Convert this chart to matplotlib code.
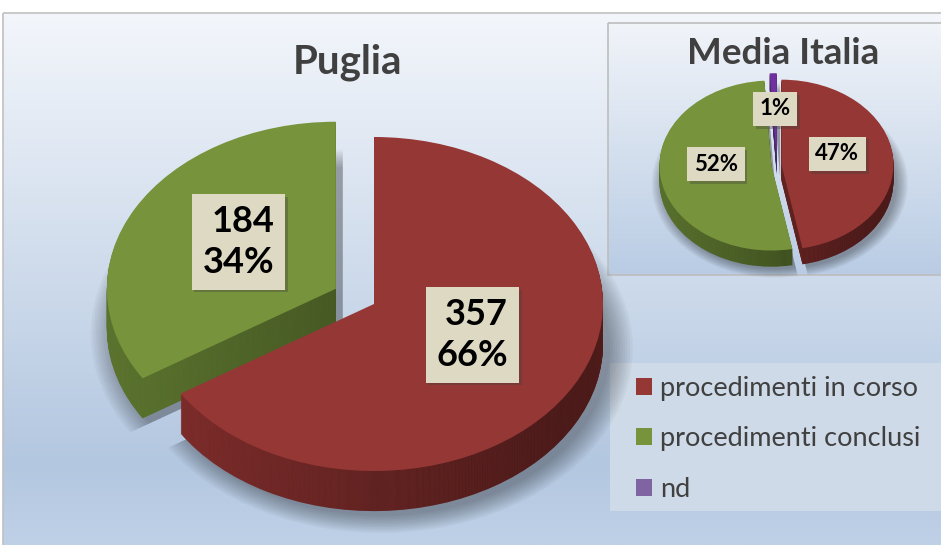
import numpy as np
import matplotlib
matplotlib.use("Agg")
import matplotlib.pyplot as plt
from matplotlib.colors import LinearSegmentedColormap
from matplotlib.patches import Rectangle, Patch
import matplotlib.patheffects as pe

plt.rcParams['font.family'] = ['Lato', 'DejaVu Sans']

# ---------------- data ----------------
categories = ['procedimenti in corso', 'procedimenti conclusi', 'nd']
puglia_values = [357, 184]
puglia_pct = [66, 34]
italia_pct = [47, 52, 1]
title_main = 'Puglia'
title_inset = 'Media Italia'

top_colors = ['#953735', '#77933c', '#7030a0']
side_colors = ['#8a3230', '#5f7831', '#5f3a85']
legend_colors = ['#953735', '#77933c', '#8064a2']

W, H = 941, 545
fig = plt.figure(figsize=(W / 100, H / 100), dpi=100)

# ---------------- background ----------------
bg = fig.add_axes([0, 0, 1, 1])
bg.axis('off')
cmap_bg = LinearSegmentedColormap.from_list(
    'bg', [(0, '#f3f6fb'), (0.85, '#b3c7e0'), (1.0, '#bfd1e7')])
grad = np.linspace(0, 1, 256)[:, None]
bg.imshow(grad, cmap=cmap_bg, extent=[3, W + 5, H, 13], aspect='auto', zorder=0)
bg.add_patch(Rectangle((3, 13), W + 10, H, fill=False, edgecolor='#c0c0c0', lw=1.2, zorder=1))

# inset panel
cmap_in = LinearSegmentedColormap.from_list('in', ['#f1f4f9', '#b9cce4'])
bg.imshow(grad, cmap=cmap_in, extent=[608, W + 5, 275, 23], aspect='auto', zorder=2)
bg.add_patch(Rectangle((608, 23), W, 252, fill=False, edgecolor='#bdbdbd', lw=1.2, zorder=3))

# legend panel
bg.add_patch(Rectangle((610, 363), W, 148, facecolor='#cfdae8', edgecolor='none', zorder=2))
bg.set_xlim(0, W)
bg.set_ylim(H, 0)

shade_cmap = LinearSegmentedColormap.from_list('shade', [(0, 0, 0, 0.0), (0, 0, 0, 0.6)])


def make_axes(cx, cy, rx, ry, xl, yl):
    left = cx + xl[0] * rx
    right = cx + xl[1] * rx
    top = cy - yl[1] * ry
    bottom = cy - yl[0] * ry
    ax = fig.add_axes([left / W, 1 - bottom / H, (right - left) / W, (bottom - top) / H])
    ax.patch.set_alpha(0)
    return ax


def pie3d(ax, values, explode, depth, nlayers, xl, yl):
    n = len(values)
    # soft shadow
    for s in np.linspace(1.0, 1.10, 10):
        sw, _ = ax.pie(values, colors=['black'] * n, startangle=90,
                       counterclock=False, explode=explode,
                       center=(0.03, -depth - 0.03), radius=s,
                       wedgeprops=dict(linewidth=0, alpha=0.035))
        for w in sw:
            w.set_zorder(0.5)
    for i, k in enumerate(range(nlayers, 0, -1)):
        dz = depth * k / nlayers
        wedges, _ = ax.pie(values, colors=side_colors[:n], startangle=90,
                           counterclock=False, explode=explode,
                           center=(0, -dz), radius=1,
                           wedgeprops=dict(linewidth=0))
        for w in wedges:
            w.set_zorder(1 + i * 0.01)
            im = ax.imshow(np.linspace(0, 1, 64)[None, :], cmap=shade_cmap,
                           extent=[-1.3, 1.3, -1.6, 1.3], aspect='auto',
                           interpolation='bilinear', zorder=1 + i * 0.01 + 0.005)
            im.set_clip_path(w)
    wedges, _, autotexts = ax.pie(values, colors=top_colors[:n], startangle=90,
                                  counterclock=False, explode=explode,
                                  center=(0, 0), radius=1,
                                  autopct=lambda p: '', pctdistance=0.5,
                                  wedgeprops=dict(linewidth=0))
    for w in wedges:
        w.set_zorder(5)
    ax.set_aspect('auto')
    ax.set_xlim(*xl)
    ax.set_ylim(*yl)
    ax.axis('off')
    return wedges, autotexts


def style_label(t, txt, fs, ls):
    t.set_text(txt)
    t.set_fontsize(fs)
    t.set_fontweight('bold')
    t.set_color('black')
    t.set_multialignment('right')
    t.set_linespacing(ls)
    t.set_bbox(dict(boxstyle='square,pad=0.3', facecolor='#ddd9c3', edgecolor='none'))
    t.get_bbox_patch().set_path_effects(
        [pe.SimplePatchShadow(offset=(2, -2), alpha=0.35), pe.Normal()])
    t.set_zorder(20)


# ---------------- main pie (Puglia) ----------------
xl_m, yl_m = (-1.25, 1.25), (-1.35, 1.15)
ax_m = make_axes(374, 304, 229, 167, xl_m, yl_m)
w_m, at_m = pie3d(ax_m, puglia_values, [0, 0.19], 0.24, 40, xl_m, yl_m)
for t, v, p in zip(at_m, puglia_values, puglia_pct):
    x, y = t.get_position()
    t.set_position((x * 0.98, y * 0.97 + 0.05))
    style_label(t, f'{v}\n{p}%', 26, 1.3)

fig.text(348 / W, 1 - 62 / H, title_main, ha='center', va='center',
         fontsize=29, fontweight='bold', color='#404040')

# ---------------- inset pie (Media Italia) ----------------
xl_i, yl_i = (-1.25, 1.25), (-1.35, 1.2)
ax_i = make_axes(777, 165, 112, 85, xl_i, yl_i)
w_i, at_i = pie3d(ax_i, italia_pct, [0.04, 0.05, 0.08], 0.19, 16, xl_i, yl_i)
for t, p in zip(at_i, italia_pct):
    x, y = t.get_position()
    t.set_position((x * 1.0, y * 1.0 + 0.08))
    style_label(t, f'{p}%', 16, 1.2)

fig.text(783 / W, 1 - 53 / H, title_inset, ha='center', va='center',
         fontsize=26.5, fontweight='bold', color='#404040')

# ---------------- legend ----------------
handles = [Patch(facecolor=c, edgecolor='none') for c in legend_colors]
fig.legend(handles=handles, labels=categories, loc='upper left',
           bbox_to_anchor=(630.5 / W, 1 - 370.5 / H), bbox_transform=fig.transFigure,
           frameon=False, fontsize=19.5, labelcolor='#404040',
           handlelength=0.6, handleheight=0.6, handletextpad=0.3,
           labelspacing=0.94, borderpad=0.2, borderaxespad=0)

fig.savefig('out.png', dpi=100)
